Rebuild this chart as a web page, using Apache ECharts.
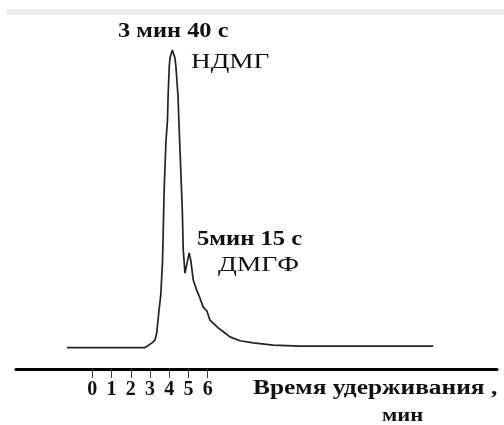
<!DOCTYPE html>
<html>
<head>
<meta charset="utf-8">
<script src="https://cdn.jsdelivr.net/npm/echarts@6/dist/echarts.min.js"></script>
<style>html,body{margin:0;padding:0;background:#fff}#c{width:504px;height:425px}</style>
</head>
<body>
<div id="c"></div>
<script>
// Retention time (min) and detector signal (arbitrary units)
var times = [-1.32, 2.74, 2.83, 3.09, 3.26, 3.35, 3.47, 3.56, 3.65, 3.69, 3.74, 3.83, 3.91, 3.94, 4.00, 4.04, 4.16, 4.30, 4.35, 4.46, 4.51, 4.60, 4.68, 4.73, 4.82, 5.04, 5.12, 5.25, 5.43, 5.60, 5.77, 5.96, 6.12, 6.22, 6.55, 6.90, 7.16, 7.68, 8.37, 9.41, 10.80, 17.73];
var signal = [0, 0, 0.2, 1.5, 2.5, 4.9, 12.6, 17.6, 28.7, 39.5, 53.9, 69.1, 76.5, 84.2, 94.3, 97.3, 100, 97.3, 94.3, 84.2, 74.8, 59.7, 46.2, 32.8, 25.0, 31.8, 29.4, 22.7, 19.3, 16.6, 13.6, 12.3, 9.2, 8.9, 6.6, 4.9, 3.6, 2.3, 1.6, 0.8, 0.5, 0.5];
var tickValues = [0, 1, 2, 3, 4, 5, 6];
var axisTitle = ['Время удерживания ,', 'мин'];
var peak1Label = ['3 мин 40 с', 'НДМГ'];
var peak2Label = ['5мин 15 с', 'ДМГФ'];

var data = times.map(function (t, i) { return [t, signal[i]]; });
var serif = 'Liberation Serif';
function txt(s, x, y, font, sx) {
  return { type: 'text', x: x, y: y, scaleX: sx, silent: true,
    style: { text: s, font: font, fill: '#111', textVerticalAlign: 'middle' } };
}
var chart = echarts.init(document.getElementById('c'), null, { renderer: 'canvas' });
chart.setOption({
  animation: false,
  backgroundColor: '#fff',
  grid: { left: 16, right: 7, top: 50, bottom: 56 },
  xAxis: {
    type: 'value', min: -3.97, max: 21.05,
    splitLine: { show: false },
    axisLine: { show: true, onZero: false, lineStyle: { color: '#000', width: 3 } },
    axisTick: { show: true, customValues: tickValues, length: 9, lineStyle: { color: '#444', width: 1 } },
    axisLabel: { show: true, customValues: tickValues, margin: 11, fontFamily: serif, fontWeight: 'bold', fontSize: 20, color: '#111' }
  },
  yAxis: { type: 'value', min: -7.2, max: 100, show: false },
  series: [{
    type: 'line', data: data, showSymbol: false, symbol: 'none',
    lineStyle: { color: '#222', width: 1.7 }
  }],
  graphic: [
    { type: 'rect', shape: { x: 7, y: 9, width: 497, height: 6 }, style: { fill: '#ececec' }, silent: true },
    txt(peak1Label[0], 118, 32, 'bold 20px "Liberation Serif"', 1.22),
    txt(peak1Label[1], 191, 62, '21px "Liberation Serif"', 1.3),
    txt(peak2Label[0], 197, 240, 'bold 20px "Liberation Serif"', 1.23),
    txt(peak2Label[1], 218, 266, '20px "Liberation Serif"', 1.38),
    txt(axisTitle[0], 253, 389, 'bold 20px "Liberation Serif"', 1.27),
    txt(axisTitle[1], 382, 416, 'bold 18px "Liberation Serif"', 1.25)
  ]
});
</script>
</body>
</html>
